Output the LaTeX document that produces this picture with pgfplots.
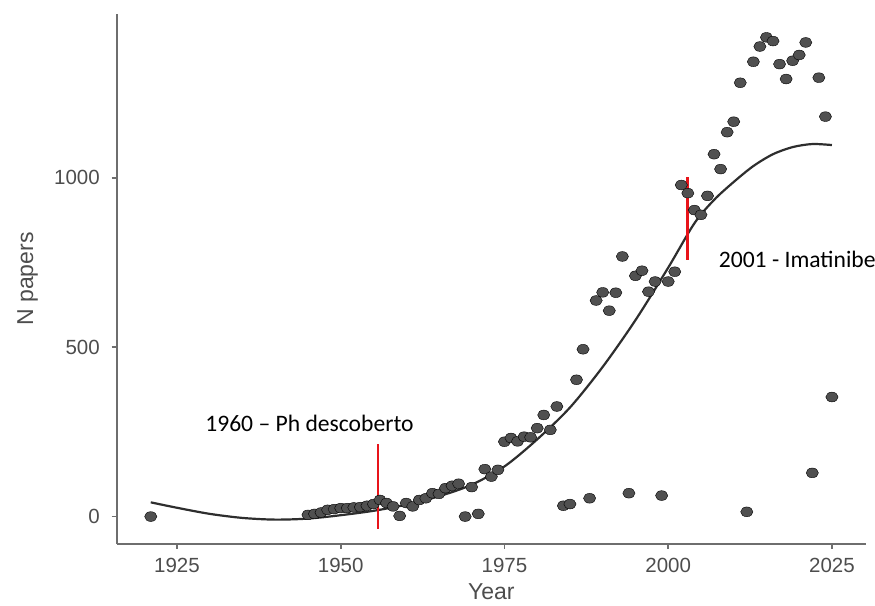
\documentclass[border=0pt]{standalone}
\usepackage{fontspec}
\setmainfont{Liberation Sans}
\newfontfamily\annotfont{Carlito}
\usepackage{pgfplots}
\pgfplotsset{compat=1.18}

\definecolor{dotgray}{HTML}{505050}
\definecolor{fitgray}{HTML}{2E2E2E}
\definecolor{axisgray}{HTML}{6E6E6E}
\definecolor{textgray}{HTML}{4D4D4D}
\definecolor{markred}{HTML}{E8141A}

% papers per year
\pgfplotstableread{
year n
1921 0
1945 5
1946 8
1947 12
1948 20
1949 22
1950 25
1951 25
1952 27
1953 28
1954 32
1955 37
1956 49
1957 40
1958 30
1959 2
1960 40
1961 30
1962 49
1963 54
1964 69
1965 67
1966 84
1967 91
1968 97
1969 0
1970 87
1971 8
1972 140
1973 118
1974 138
1975 221
1976 232
1977 222
1978 236
1979 234
1980 261
1981 300
1982 256
1983 325
1984 32
1985 37
1986 404
1987 494
1988 54
1989 638
1990 662
1991 608
1992 661
1993 768
1994 69
1995 711
1996 726
1997 664
1998 694
1999 62
2000 694
2001 723
2002 979
2003 955
2004 905
2005 891
2006 947
2007 1070
2008 1026
2009 1135
2010 1166
2011 1281
2012 14
2013 1343
2014 1388
2015 1415
2016 1404
2017 1336
2018 1292
2019 1346
2020 1363
2021 1400
2022 129
2023 1296
2024 1181
2025 353
}\papers

% fitted trend
\pgfplotstableread{
year fit
1921 42
1925 26
1930 8
1935 -4
1940 -9
1945 -6
1950 4
1955 17
1960 35
1965 60
1970 94
1975 148
1980 228
1985 322
1990 442
1995 580
2000 735
2004 866
2007 935
2010 988
2013 1035
2016 1070
2019 1091
2022 1100
2025 1097
}\trend

\begin{document}
\begin{tikzpicture}
\path[use as bounding box] (0,0) rectangle (875bp,606bp);
\begin{axis}[
  at={(116.7bp,62bp)}, anchor=south west,
  scale only axis, width=749.3bp, height=530bp,
  xmin=1915.8, xmax=2030.2, ymin=-81, ymax=1484,
  axis x line*=bottom, axis y line*=left,
  axis line style={draw=axisgray, line width=1.6bp, -},
  tick align=outside, major tick length=5bp,
  every tick/.style={draw=axisgray, line width=1.6bp},
  xtick={1925,1950,1975,2000,2025}, ytick={0,500,1000},
  /pgf/number format/1000 sep={},
  /pgf/number format/assume math mode=true,
  tick label style={font=\fontsize{20.5bp}{24bp}\selectfont, text=textgray},
  xticklabel style={anchor=base, yshift=-23bp},
  yticklabel style={anchor=east, inner sep=0pt, xshift=-11.7bp},
  xlabel={Year}, ylabel={N papers},
  label style={font=\fontsize{23bp}{27bp}\selectfont, text=textgray},
  xlabel style={at={(axis description cs:0.5,-0.104)}, anchor=base},
  ylabel style={at={(axis description cs:-0.1117,0.5)}, anchor=base},
  clip=false,
]
\addplot[only marks, mark=*, mark size=4.9bp,
  mark options={xscale=1.25, draw=none, fill=dotgray}]
  table[x=year, y=n] {\papers};
\addplot[smooth, no markers, draw=fitgray, line width=2.2bp]
  table[x=year, y=fit] {\trend};
\addplot[no markers, draw=markred, line width=2.8bp]
  coordinates {(1955.7,-36) (1955.7,215)};
\addplot[no markers, draw=markred, line width=2.8bp]
  coordinates {(2003,758) (2003,1004)};
\node[anchor=base west, inner sep=0pt, font=\annotfont\fontsize{23.6bp}{28bp}\selectfont]
  at (axis cs:1929.3,250) {1960 – Ph descoberto};
\node[anchor=base west, inner sep=0pt, font=\annotfont\fontsize{23.6bp}{28bp}\selectfont]
  at (axis cs:2007.7,734) {2001 - Imatinibe};
\end{axis}
\end{tikzpicture}
\end{document}
